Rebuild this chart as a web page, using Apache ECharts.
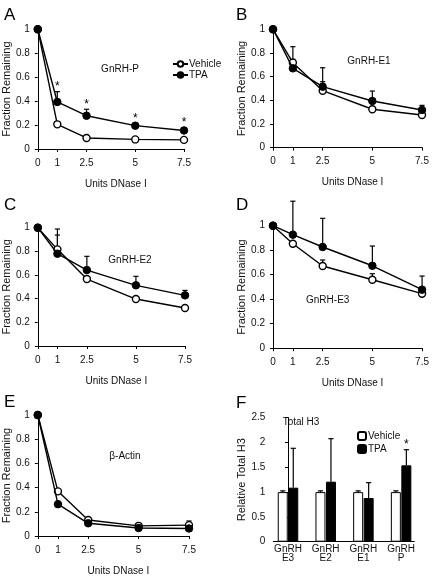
<!DOCTYPE html>
<html><head><meta charset="utf-8">
<script src="https://cdn.jsdelivr.net/npm/echarts@6/dist/echarts.min.js"></script>
<style>html,body{margin:0;padding:0;background:#fff}#c{width:432px;height:577px}</style>
</head><body><div id="c"></div>
<script>
// ---- data ----
const doses = [0, 1, 2.5, 5, 7.5];
const doseTicks = [0, 1, 2.5, 5, 7.5];
const yTicksFrac = [0, 0.2, 0.4, 0.6, 0.8, 1];

// Panel A  GnRH-P
const A_vehicle = [1, 0.206, 0.092, 0.08, 0.076];
const A_tpa     = [1, 0.393, 0.278, 0.195, 0.155];
const A_vehicleErrTop = [null, 0.225, null, null, null];
const A_tpaErrTop     = [null, 0.479, 0.332, 0.212, 0.178];
const A_star          = [0, 1, 1, 1, 1];
// Panel B  GnRH-E1
const B_vehicle = [1, 0.718, 0.481, 0.324, 0.276];
const B_tpa     = [1, 0.67, 0.515, 0.394, 0.318];
const B_vehicleErrTop = [null, 0.746, 0.557, null, null];
const B_tpaErrTop     = [null, 0.853, 0.675, 0.478, 0.357];
// Panel C  GnRH-E2
const C_vehicle = [1, 0.817, 0.566, 0.397, 0.321];
const C_tpa     = [1, 0.78, 0.642, 0.513, 0.428];
const C_vehicleErrTop = [null, 0.938, null, null, null];
const C_tpaErrTop     = [null, 0.989, 0.758, 0.589, 0.47];
// Panel D  GnRH-E3
const D_vehicle = [1, 0.853, 0.671, 0.559, 0.445];
const D_tpa     = [1, 0.927, 0.826, 0.673, 0.478];
const D_vehicleErrTop = [null, null, 0.72, 0.608, null];
const D_tpaErrTop     = [null, 1.2, 1.06, 0.834, 0.589];
// Panel E  beta-Actin
const E_vehicle = [1, 0.369, 0.132, 0.084, 0.09];
const E_tpa     = [1, 0.263, 0.105, 0.066, 0.062];
const E_vehicleErrTop = [null, null, null, null, 0.124];
const E_tpaErrTop     = [null, null, null, null, null];
// Panel F  Total H3
const F_categories = ['GnRH\nE3', 'GnRH\nE2', 'GnRH\nE1', 'GnRH\nP'];
const F_vehicle = [1, 1, 1, 1];
const F_tpa     = [1.089, 1.21, 0.88, 1.54];
const F_vehicleErrTop = [1.025, 1.025, 1.025, 1.025];
const F_tpaErrTop     = [1.883, 2.077, 1.19, 1.855];
const F_star          = [0, 0, 0, 1];
const F_yTicks = [0, 0.5, 1, 1.5, 2, 2.5];

// ---- layout / style ----
const FONT = "'Liberation Sans', Arial, sans-serif";
const panels = [
  {key:'A', v:A_vehicle, t:A_tpa, ve:A_vehicleErrTop, te:A_tpaErrTop, star:A_star, label:'GnRH-P',  grid:{left:35,  top:29.3, width:149, height:119.7}, lab:[120,69.5]},
  {key:'B', v:B_vehicle, t:B_tpa, ve:B_vehicleErrTop, te:B_tpaErrTop, star:null,   label:'GnRH-E1', grid:{left:273, top:29.3, width:149, height:118.3}, lab:[369,61]},
  {key:'C', v:C_vehicle, t:C_tpa, ve:C_vehicleErrTop, te:C_tpaErrTop, star:null,   label:'GnRH-E2', grid:{left:35,  top:227.7, width:150, height:118.3}, lab:[130,260.7]},
  {key:'D', v:D_vehicle, t:D_tpa, ve:D_vehicleErrTop, te:D_tpaErrTop, star:null,   label:'GnRH-E3', grid:{left:273, top:225.7, width:152, height:122.5}, lab:[327.7,300]},
  {key:'E', v:E_vehicle, t:E_tpa, ve:E_vehicleErrTop, te:E_tpaErrTop, star:null,   label:'\u03B2-Actin', grid:{left:34.3, top:415, width:154.7, height:126.7}, lab:[125,456]}
];
const letters = [['A',4,7],['B',236,7],['C',4,197],['D',236,197],['E',4,394],['F',236,395]];

const grids = [], xAxes = [], yAxes = [], series = [], graphics = [];
const axisLine = {show:true, lineStyle:{color:'#000', width:1}};
const labelStyle = {color:'#111', fontFamily:FONT, fontSize:10};
const xNameStyle = {color:'#111', fontFamily:FONT, fontSize:10};
const yNameStyle = {color:'#111', fontFamily:FONT, fontSize:11};

function errSeries(name, gi, xs, means, tops, stars, dx) {
  const data = [];
  xs.forEach((x, i) => { if (tops[i] != null) data.push([x, means[i], tops[i], stars ? stars[i] : 0]); });
  return {
    type:'custom', name, xAxisIndex:gi, yAxisIndex:gi, z:1, silent:true, data,
    renderItem(params, api) {
      const p0 = api.coord([api.value(0), api.value(1)]);
      const p1 = api.coord([api.value(0), api.value(2)]);
      const x = p0[0] + dx;
      const children = [
        {type:'line', shape:{x1:x, y1:p0[1], x2:x, y2:p1[1]}, style:{stroke:'#000', lineWidth:1.2}},
        {type:'line', shape:{x1:x-2.6, y1:p1[1], x2:x+2.6, y2:p1[1]}, style:{stroke:'#000', lineWidth:1.2}}
      ];
      if (api.value(3)) children.push({type:'text', style:{text:'*', x:x, y:p1[1]+1, align:'center', verticalAlign:'bottom', fontSize:12, fontFamily:FONT, fill:'#000'}});
      return {type:'group', children};
    }
  };
}

panels.forEach((p, gi) => {
  grids.push(Object.assign({containLabel:false}, p.grid));
  xAxes.push({
    type:'value', gridIndex:gi, min:0, max:7.5,
    name:'Units DNase I', nameLocation:'middle', nameGap:30,
    nameTextStyle:Object.assign({padding:[0,0,0,10]}, xNameStyle),
    axisLine, splitLine:{show:false},
    axisTick:{show:true, length:3, customValues:doseTicks, lineStyle:{color:'#000'}},
    axisLabel:Object.assign({margin:9, customValues:doseTicks}, labelStyle)
  });
  yAxes.push({
    type:'value', gridIndex:gi, min:0, max:1, interval:0.2,
    name:'Fraction Remaining', nameLocation:'middle', nameGap:24,
    nameTextStyle:yNameStyle,
    axisLine, splitLine:{show:false},
    axisTick:{show:true, length:3, lineStyle:{color:'#000'}},
    axisLabel:Object.assign({margin:8}, labelStyle)
  });
  const isA = gi === 0;
  series.push(errSeries(p.key+' ve', gi, doses, p.v, p.ve, null, 0));
  series.push(errSeries(p.key+' te', gi, doses, p.t, p.te, p.star, 0));
  series.push({
    type:'line', name: isA ? 'Vehicle' : p.key+' Vehicle', xAxisIndex:gi, yAxisIndex:gi, z:3,
    data: doses.map((d,i)=>[d, p.v[i]]),
    symbol:'circle', symbolSize:7, showSymbol:true,
    lineStyle:{color:'#000', width:1.4},
    itemStyle:{color:'#fff', borderColor:'#000', borderWidth:1.4}
  });
  series.push({
    type:'line', name: isA ? 'TPA' : p.key+' TPA', xAxisIndex:gi, yAxisIndex:gi, z:4,
    data: doses.map((d,i)=>[d, p.t[i]]),
    symbol:'circle', symbolSize:7.5, showSymbol:true,
    lineStyle:{color:'#000', width:1.4},
    itemStyle:{color:'#000', borderColor:'#000', borderWidth:1}
  });
  graphics.push({type:'text', x:p.lab[0], y:p.lab[1], style:{text:p.label, align:'center', verticalAlign:'middle', fontFamily:FONT, fontSize:10, fill:'#111'}});
});

// Panel F (bar)
const fi = panels.length;
grids.push({left:273.3, top:417.7, width:141, height:124});
xAxes.push({
  type:'value', gridIndex:fi, min:-0.39, max:3.35,
  axisLine, splitLine:{show:false}, axisTick:{show:false},
  axisLabel:Object.assign({margin:3, lineHeight:9, customValues:[0,1,2,3], formatter:(v)=>F_categories[Math.round(v)]}, labelStyle)
});
yAxes.push({
  type:'value', gridIndex:fi, min:0, max:2.5, interval:0.5,
  name:'Relative Total H3', nameLocation:'middle', nameGap:19,
  nameTextStyle:yNameStyle,
  axisLine, splitLine:{show:false},
  axisTick:{show:true, length:3, lineStyle:{color:'#000'}},
  axisLabel:Object.assign({margin:8}, labelStyle)
});
const fx = F_categories.map((c,i)=>i);
series.push({
  type:'bar', name:'Vehicle ', xAxisIndex:fi, yAxisIndex:fi, barWidth:10, barGap:'5%', z:2,
  data: fx.map(i=>[i, F_vehicle[i]]),
  itemStyle:{color:'#fff', borderColor:'#000', borderWidth:1}
});
series.push({
  type:'bar', name:'TPA ', xAxisIndex:fi, yAxisIndex:fi, barWidth:10, barGap:'5%', z:2,
  data: fx.map(i=>[i, F_tpa[i]]),
  itemStyle:{color:'#000', borderColor:'#000', borderWidth:1}
});
series.push(errSeries('F ve', fi, fx, F_vehicle, F_vehicleErrTop, null, -5.25));
series.push(errSeries('F te', fi, fx, F_tpa, F_tpaErrTop, F_star, 5.25));
graphics.push({type:'text', x:301, y:422.7, style:{text:'Total H3', align:'center', verticalAlign:'middle', fontFamily:FONT, fontSize:10, fill:'#111'}});

letters.forEach(([t,x,y]) => graphics.push({type:'text', x, y, style:{text:t, fontFamily:FONT, fontSize:17, fill:'#000'}}));

const chart = echarts.init(document.getElementById('c'), null, {renderer:'canvas'});
chart.setOption({
  animation:false,
  backgroundColor:'#fff',
  grid:grids, xAxis:xAxes, yAxis:yAxes, series,
  legend:[
    {data:['Vehicle','TPA'], orient:'vertical', left:167, top:54, itemWidth:15, itemHeight:7, itemGap:1,
     textStyle:{fontFamily:FONT, fontSize:10, color:'#111', padding:[0,0,0,-4]}, selectedMode:false},
    {data:['Vehicle ','TPA '], orient:'vertical', left:352, top:426, itemWidth:8, itemHeight:8, itemGap:3,
     textStyle:{fontFamily:FONT, fontSize:10, color:'#111', padding:[0,0,0,-3]}, selectedMode:false}
  ],
  graphic:graphics
});
</script></body></html>
